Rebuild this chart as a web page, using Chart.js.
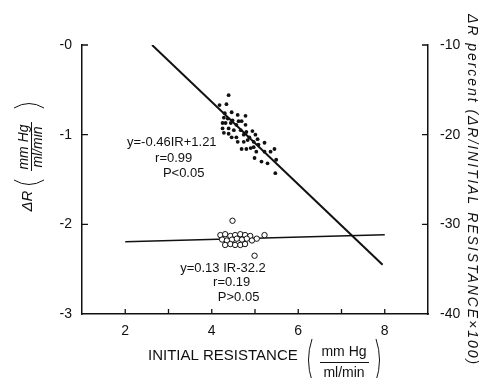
<!DOCTYPE html>
<html>
<head>
<meta charset="utf-8">
<script src="https://cdn.jsdelivr.net/npm/chart.js@4.4.1/dist/chart.umd.min.js"></script>
<style>
  html, body { margin: 0; padding: 0; background: #fff; }
  #wrap { width: 492px; height: 378px; }
</style>
</head>
<body>
<div id="wrap"><canvas id="chart" width="492" height="378"></canvas></div>
<script>
// ── Data ──────────────────────────────────────────────────
const xTicks = [2, 3, 4, 5, 6, 7, 8];
const xTickLabels = ['2', '', '4', '', '6', '', '8'];
const leftTicks = [-3, -2, -1, 0];
const leftTickLabels = ['-3', '-2', '-1', '-0'];
const rightTicks = [-40, -30, -20, -10];
const rightTickLabels = ['-40', '-30', '-20', '-10'];

// filled dots: ΔR (mm Hg / ml/min) against initial resistance
const absIR = [4.39, 4.18, 4.34, 4.30, 4.46, 4.60, 4.78, 4.28, 4.37, 4.48,
  4.62, 4.69, 4.25, 4.32, 4.44, 4.57, 4.78, 4.25, 4.39, 4.51,
  4.67, 4.80, 4.94, 4.28, 4.39, 4.46, 4.57, 4.74, 4.87, 5.01,
  4.60, 4.74, 4.83, 4.97, 5.06, 4.69, 4.80, 4.90, 4.97, 5.08,
  5.22, 5.45, 5.03, 5.22, 5.36, 4.99, 5.15, 5.29, 5.49, 5.47];
const absDR = [-0.56, -0.67, -0.66, -0.76, -0.75, -0.78, -0.79, -0.81, -0.82, -0.84,
  -0.85, -0.85, -0.87, -0.87, -0.87, -0.89, -0.89, -0.93, -0.93, -0.95,
  -0.95, -0.97, -0.96, -0.98, -0.99, -1.03, -1.03, -1.00, -1.03, -1.00,
  -1.08, -1.08, -1.06, -1.08, -1.05, -1.16, -1.16, -1.15, -1.14, -1.11,
  -1.09, -1.16, -1.19, -1.19, -1.19, -1.26, -1.30, -1.32, -1.28, -1.43];

// open circles: ΔR percent against initial resistance
const pctIR = [4.20, 4.31, 4.43, 4.54, 4.66, 4.77, 4.89, 4.48,
  4.24, 4.35, 4.47, 4.58, 4.70, 4.81, 4.93, 5.04, 5.22,
  4.31, 4.43, 4.54, 4.66, 4.77, 4.99];
const pctDR = [-31.2, -31.1, -31.3, -31.2, -31.1, -31.2, -31.3, -29.6,
  -31.7, -31.8, -31.7, -31.6, -31.7, -31.6, -31.8, -31.6, -31.2,
  -32.3, -32.2, -32.3, -32.3, -32.2, -33.5];

// regression lines (end points)
const fitAbsX = [2.62, 7.95];
const fitAbsY = [0, -2.45];
const fitPctX = [2, 8];
const fitPctY = [-31.94, -31.16];

const notes = [
  { text: 'y=-0.46IR+1.21', x: 2.04, y: -1.09 },
  { text: 'r=0.99', x: 2.69, y: -1.26 },
  { text: 'P<0.05', x: 2.87, y: -1.43 },
  { text: 'y=0.13 IR-32.2', x: 3.27, y: -2.49 },
  { text: 'r=0.19', x: 4.03, y: -2.65 },
  { text: 'P>0.05', x: 4.14, y: -2.82 }
];

const ink = '#111';
const FONT = '"Liberation Sans", Arial, sans-serif';

function pts(xs, ys) {
  return xs.map((x, i) => ({ x, y: ys[i] }));
}

function paren(ctx, cx, cy, h, dir) {
  // dir = 1 for '(' , -1 for ')'
  ctx.beginPath();
  ctx.moveTo(cx + dir * 3, cy - h / 2);
  ctx.quadraticCurveTo(cx - dir * 4, cy, cx + dir * 3, cy + h / 2);
  ctx.stroke();
}

// ── Decorations: inward ticks, notes, titles ─────────────
const decor = {
  id: 'decor',
  afterDraw(chart) {
    const { ctx, chartArea: a, scales: { x, y, y2 } } = chart;
    ctx.save();
    ctx.strokeStyle = ink;
    ctx.fillStyle = ink;
    ctx.lineWidth = 1.3;

    ctx.beginPath();
    xTicks.forEach(v => {
      const px = x.getPixelForValue(v);
      ctx.moveTo(px, a.bottom); ctx.lineTo(px, a.bottom - 5);
    });
    leftTicks.filter(v => v > -3).forEach(v => {
      const py = y.getPixelForValue(v);
      ctx.moveTo(a.left, py); ctx.lineTo(a.left + 6, py);
    });
    rightTicks.filter(v => v > -40).forEach(v => {
      const py = y2.getPixelForValue(v);
      ctx.moveTo(a.right, py); ctx.lineTo(a.right - 6, py);
    });
    ctx.stroke();

    // regression notes
    ctx.font = '13px ' + FONT;
    ctx.textAlign = 'left';
    ctx.textBaseline = 'middle';
    notes.forEach(n => ctx.fillText(n.text, x.getPixelForValue(n.x), y.getPixelForValue(n.y)));

    // x title
    ctx.font = '15px ' + FONT;
    ctx.fillText('INITIAL RESISTANCE', 148, 356);
    ctx.font = '14px ' + FONT;
    ctx.textAlign = 'center';
    ctx.fillText('mm Hg', 344, 352);
    ctx.fillText('ml/min', 344, 373);
    ctx.lineWidth = 1;
    ctx.beginPath(); ctx.moveTo(320, 362.5); ctx.lineTo(369, 362.5); ctx.stroke();
    paren(ctx, 309, 360, 42, 1);
    paren(ctx, 379, 360, 42, -1);

    // left y title (reads bottom to top)
    ctx.save();
    ctx.translate(31, 160);
    ctx.rotate(-Math.PI / 2);
    ctx.font = 'italic 15px ' + FONT;
    ctx.fillText('\u0394R', -41, -3);
    ctx.font = 'italic 14px ' + FONT;
    ctx.fillText('mm Hg', 13, -7);
    ctx.fillText('ml/min', 13, 7);
    ctx.beginPath(); ctx.moveTo(-11, 0.5); ctx.lineTo(38, 0.5); ctx.stroke();
    ctx.restore();
    // its parentheses, as arcs bulging outwards along the axis
    ctx.save();
    ctx.translate(31, 160);
    ctx.beginPath();
    ctx.moveTo(-17, 20); ctx.quadraticCurveTo(-2, 29, 13, 20); ctx.stroke();
    ctx.beginPath();
    ctx.moveTo(-17, -52); ctx.quadraticCurveTo(-2, -61, 13, -52); ctx.stroke();
    ctx.restore();

    // right y title (reads top to bottom)
    ctx.save();
    ctx.translate(472, 190);
    ctx.rotate(Math.PI / 2);
    ctx.font = 'italic 14px ' + FONT;
    const label = '\u0394R percent (\u0394R/INITIAL RESISTANCE\u00d7100)';
    const w = ctx.measureText(label).width;
    ctx.letterSpacing = ((350 - w) / (label.length - 1)).toFixed(2) + 'px';
    ctx.fillText(label, 0, 0);
    ctx.restore();

    ctx.restore();
  }
};

// ── Chart ─────────────────────────────────────────────────
const tickFont = { family: FONT, size: 14 };

new Chart(document.getElementById('chart'), {
  type: 'scatter',
  data: {
    datasets: [
      {
        data: pts(pctIR, pctDR),
        yAxisID: 'y2',
        pointRadius: 2.7,
        backgroundColor: '#fff',
        borderColor: ink,
        borderWidth: 1
      },
      {
        data: pts(absIR, absDR),
        yAxisID: 'y',
        pointRadius: 1.9,
        backgroundColor: ink,
        borderWidth: 0
      },
      {
        data: pts(fitAbsX, fitAbsY),
        yAxisID: 'y',
        showLine: true,
        pointRadius: 0,
        borderColor: ink,
        borderWidth: 2
      },
      {
        data: pts(fitPctX, fitPctY),
        yAxisID: 'y2',
        showLine: true,
        pointRadius: 0,
        borderColor: ink,
        borderWidth: 1.6
      }
    ]
  },
  options: {
    responsive: false,
    devicePixelRatio: 1,
    animation: false,
    layout: { padding: { top: 45, right: 0, bottom: 0, left: 0 } },
    plugins: { legend: { display: false }, tooltip: { enabled: false } },
    scales: {
      x: {
        type: 'linear',
        min: 1,
        max: 9,
        afterBuildTicks: s => { s.ticks = xTicks.map(v => ({ value: v })); },
        afterFit: s => { s.height = 64; },
        grid: { display: false, drawTicks: false },
        border: { display: true, color: ink, width: 1.5 },
        ticks: {
          callback: (v, i) => xTickLabels[i],
          color: ink, font: tickFont, padding: 9, maxRotation: 0, autoSkip: false
        }
      },
      y: {
        position: 'left',
        min: -3,
        max: 0,
        afterBuildTicks: s => { s.ticks = leftTicks.map(v => ({ value: v })); },
        afterFit: s => { s.width = 82; },
        grid: { display: false, drawTicks: false },
        border: { display: true, color: ink, width: 1.5 },
        ticks: {
          callback: (v, i) => leftTickLabels[i],
          color: ink, font: tickFont, padding: 10, autoSkip: false
        }
      },
      y2: {
        position: 'right',
        axis: 'y',
        min: -40,
        max: -10,
        afterBuildTicks: s => { s.ticks = rightTicks.map(v => ({ value: v })); },
        afterFit: s => { s.width = 64; },
        grid: { display: false, drawTicks: false },
        border: { display: true, color: ink, width: 1.5 },
        ticks: {
          callback: (v, i) => rightTickLabels[i],
          color: ink, font: tickFont, padding: 12, autoSkip: false
        }
      }
    }
  },
  plugins: [decor]
});
</script>
</body>
</html>
